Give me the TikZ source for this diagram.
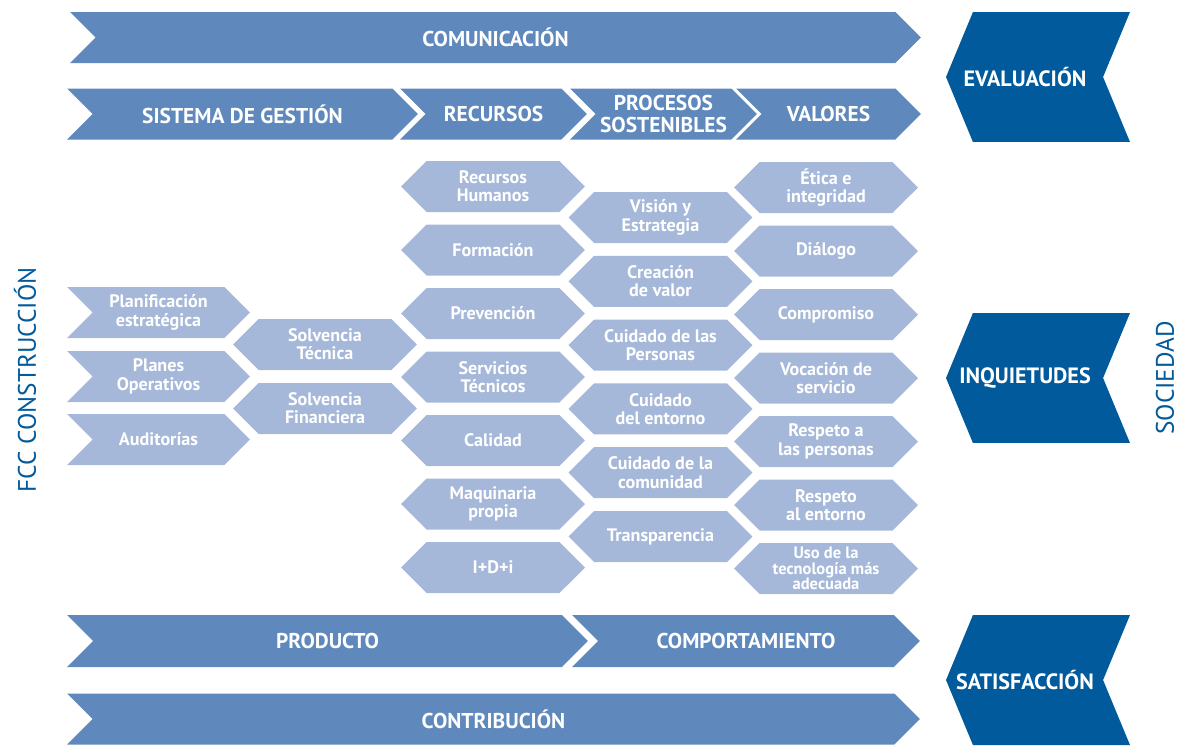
\documentclass[tikz,border=0pt]{standalone}
\usepackage{fontspec}
\setmainfont{PT Sans}
\usepackage{tikz}
\usetikzlibrary{shapes.symbols}
\definecolor{bandcolor}{RGB}{95,136,188}
\definecolor{itemcolor}{RGB}{165,184,217}
\definecolor{darkcolor}{RGB}{0,90,156}

\tikzset{
    band/.style={signal, signal from=west, signal to=east, signal pointer angle=90,
        fill=bandcolor, text=white, inner sep=0pt, minimum height=1.02cm, align=center,
        font=\fontsize{12.2}{12.2}\selectfont\bfseries},
    item/.style={signal, signal to=west and east, signal pointer angle=90,
        fill=itemcolor, text=white, inner sep=0pt, minimum width=3.68cm, minimum height=1.02cm,
        align=center, font=\fontsize{10.3}{10.4}\selectfont\bfseries},
    leftitem/.style={item, signal from=west, signal to=east},
    darkbox/.style={signal, signal from=east, signal to=west, signal pointer angle=135,
        fill=darkcolor, inner sep=0pt, minimum width=3.68cm, minimum height=2.6cm},
    darklabel/.style={xshift=-0.26cm, text=white, font=\fontsize{12.6}{14}\selectfont\bfseries},
    sidelabel/.style={rotate=90, text=darkcolor, font=\fontsize{14.4}{16}\selectfont}
}

\begin{document}
\begin{tikzpicture}[x=0.02cm, y=-0.02cm]
    \useasboundingbox (0,0) rectangle (1187,745);

    % Bandas superiores
    \node[band, minimum width=17.02cm] (comunicacion) at (495.5,37.5) {COMUNICACIÓN};
    \node[band, minimum width=7.02cm] (gestion) at (242.5,114) {SISTEMA DE GESTIÓN};
    \node[band, minimum width=3.74cm] (recursos) at (493.5,114) {RECURSOS};
    \node[band, minimum width=3.74cm] (procesos) at (663.5,114) {PROCESOS\\SOSTENIBLES};
    \node[band, minimum width=3.70cm] (valores) at (828.5,114) {VALORES};

    % Columna derecha
    \node[darkbox, label={[darklabel]center:EVALUACIÓN}] (evaluacion) at (1038,77) {};
    \node[darkbox, label={[darklabel]center:INQUIETUDES}] (inquietudes) at (1038,378) {};
    \node[darkbox, label={[darklabel]center:SATISFACCIÓN}] (satisfaccion) at (1038,680) {};

    % Textos laterales
    \node[sidelabel] (fcc) at (25,380) {FCC CONSTRUCCIÓN};
    \node[sidelabel] (sociedad) at (1165,378) {SOCIEDAD};

    % Sistema de gestion
    \node[leftitem, minimum width=3.66cm] (planificacion) at (158.5,312.5) {Planificación\\estratégica};
    \node[leftitem, minimum width=3.66cm] (planes) at (158.5,376.5) {Planes\\Operativos};
    \node[leftitem, minimum width=3.66cm] (auditorias) at (158.5,439.5) {Auditorías};
    \node[item] (tecnica) at (325,344.5) {Solvencia\\Técnica};
    \node[item] (financiera) at (325,408.5) {Solvencia\\Financiera};

    % Recursos
    \node[item] (humanos) at (493,186.5) {Recursos\\Humanos};
    \node[item] (formacion) at (493,250) {Formación};
    \node[item] (prevencion) at (493,313.5) {Prevención};
    \node[item] (servicios) at (493,377) {Servicios\\Técnicos};
    \node[item] (calidad) at (493,440.5) {Calidad};
    \node[item] (maquinaria) at (493,504) {Maquinaria\\propia};
    \node[item] (idi) at (493,567.5) {I+D+i};

    % Procesos sostenibles
    \node[item] (vision) at (660.5,217.5) {Visión y\\Estrategia};
    \node[item] (creacion) at (660.5,281.3) {Creación\\de valor};
    \node[item] (personas) at (660.5,345.1) {Cuidado de las\\Personas};
    \node[item] (entorno) at (660.5,408.9) {Cuidado\\del entorno};
    \node[item] (comunidad) at (660.5,472.7) {Cuidado de la\\comunidad};
    \node[item] (transparencia) at (660.5,536.5) {Transparencia};

    % Valores
    \node[item] (etica) at (826,187.5) {Ética e\\integridad};
    \node[item] (dialogo) at (826,251) {Diálogo};
    \node[item] (compromiso) at (826,314.5) {Compromiso};
    \node[item] (vocacion) at (826,378) {Vocación de\\servicio};
    \node[item] (respetopers) at (826,441.5) {Respeto a\\las personas};
    \node[item] (respetoent) at (826,505) {Respeto\\al entorno};
    \node[item, font=\fontsize{9.4}{8.8}\selectfont\bfseries] (tecnologia) at (826,568.5) {Uso de la\\tecnología más\\adecuada};

    % Bandas inferiores
    \node[band, minimum width=10.42cm, minimum height=1.04cm] (producto) at (327.5,641) {PRODUCTO};
    \node[band, minimum width=6.96cm, minimum height=1.04cm] (comportamiento) at (746,641) {COMPORTAMIENTO};
    \node[band, minimum width=17.06cm] (contribucion) at (493.5,719) {CONTRIBUCIÓN};
\end{tikzpicture}
\end{document}
